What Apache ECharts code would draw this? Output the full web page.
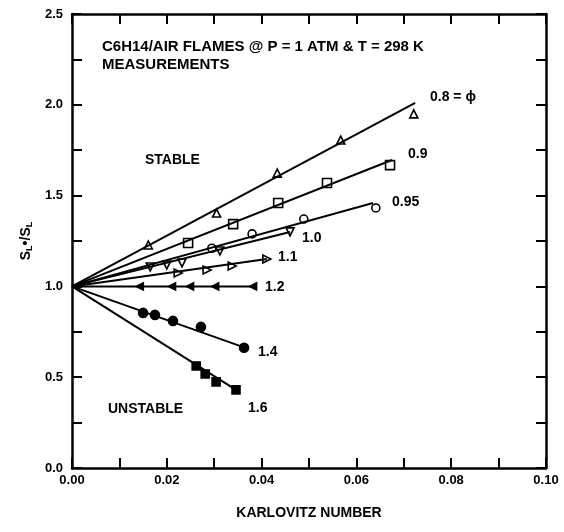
<!DOCTYPE html>
<html><head><meta charset="utf-8">
<script src="https://cdn.jsdelivr.net/npm/echarts@6/dist/echarts.min.js"></script>
<style>html,body{margin:0;padding:0;background:#fff}#c{width:564px;height:532px}</style>
</head><body><div id="c"></div>
<script>
// ---- data (Karlovitz number, S_L*/S_L) ----
const phiLabels = ['0.8 = ϕ', '0.9', '0.95', '1.0', '1.1', '1.2', '1.4', '1.6'];
const ka08 = [0.0161, 0.0305, 0.0433, 0.0567, 0.0721];
const sr08 = [1.228, 1.404, 1.624, 1.806, 1.950];
const ka09 = [0.0245, 0.0340, 0.0435, 0.0538, 0.0671];
const sr09 = [1.239, 1.343, 1.459, 1.569, 1.668];
const ka095 = [0.0295, 0.0380, 0.0489, 0.0641];
const sr095 = [1.210, 1.289, 1.371, 1.432];
const ka10 = [0.0165, 0.0200, 0.0232, 0.0312, 0.0460];
const sr10 = [1.107, 1.118, 1.129, 1.195, 1.300];
const ka11 = [0.0224, 0.0285, 0.0338, 0.0411];
const sr11 = [1.074, 1.090, 1.112, 1.151];
const ka12 = [0.0143, 0.0211, 0.0249, 0.0302, 0.0382];
const sr12 = [1.000, 1.000, 1.000, 1.000, 1.000];
const ka14 = [0.0150, 0.0175, 0.0213, 0.0272, 0.0363];
const sr14 = [0.854, 0.843, 0.810, 0.777, 0.662];
const ka16 = [0.0262, 0.0281, 0.0304, 0.0346];
const sr16 = [0.562, 0.518, 0.474, 0.430];
// fitted lines: all start at (0, 1)
const fitStartKa = 0, fitStartSr = 1;
const fitEndKa = [0.0724, 0.0675, 0.0635, 0.0460, 0.0411, 0.0382, 0.0363, 0.0346];
const fitEndSr = [2.010, 1.696, 1.459, 1.300, 1.151, 1.000, 0.664, 0.430];
const xTicks = [0, 0.02, 0.04, 0.06, 0.08, 0.10];
const yTicks = [0, 0.5, 1.0, 1.5, 2.0, 2.5];

const kaSets = [ka08, ka09, ka095, ka10, ka11, ka12, ka14, ka16];
const srSets = [sr08, sr09, sr095, sr10, sr11, sr12, sr14, sr16];
const symbols = [
  {symbol:'triangle', rot:0, fill:false, size:8},
  {symbol:'rect', rot:0, fill:false, size:9},
  {symbol:'circle', rot:0, fill:false, size:8},
  {symbol:'triangle', rot:180, fill:false, size:8},
  {symbol:'triangle', rot:-90, fill:false, size:8},
  {symbol:'triangle', rot:90, fill:true, size:7},
  {symbol:'circle', rot:0, fill:true, size:9},
  {symbol:'rect', rot:0, fill:true, size:8}
];

const FONT = 'Liberation Sans, Arial, sans-serif';
const series = [];
kaSets.forEach((ka, i) => {
  series.push({
    type: 'line', xAxisIndex: 0, yAxisIndex: 0, symbol: 'none', silent: true,
    lineStyle: {color: '#000', width: 2},
    data: [[fitStartKa, fitStartSr], [fitEndKa[i], fitEndSr[i]]]
  });
  const s = symbols[i];
  series.push({
    type: 'scatter', xAxisIndex: 0, yAxisIndex: 0,
    symbol: s.symbol, symbolRotate: s.rot, symbolSize: s.size,
    itemStyle: {color: s.fill ? '#000' : '#fff', borderColor: '#000', borderWidth: 1.6, opacity: 1},
    data: ka.map((x, j) => [x, srSets[i][j]])
  });
});
// empty series so the mirror axes (top / right) are drawn
series.push({type: 'scatter', xAxisIndex: 1, yAxisIndex: 1, data: [], silent: true});

const labelTxt = {fontFamily: FONT, fontWeight: 'bold', fontSize: 14, fill: '#000'};
const txt = (x, y, t, extra) => ({type: 'text', left: x, top: y, style: Object.assign({text: t}, labelTxt, extra || {})});

const tickStyle = {inside: true, length: 10, lineStyle: {color: '#000', width: 2}};
const lineStyle = {onZero: false, lineStyle: {color: '#000', width: 2.5}};

const chart = echarts.init(document.getElementById('c'), null, {renderer: 'canvas'});
chart.setOption({
  animation: false,
  backgroundColor: '#fff',
  grid: {left: 72, right: 18, top: 14, bottom: 64, containLabel: false},
  xAxis: [{
    type: 'value', min: 0, max: 0.1, interval: 0.01, position: 'bottom',
    name: 'KARLOVITZ NUMBER', nameLocation: 'middle', nameGap: 38,
    nameTextStyle: {fontFamily: FONT, fontWeight: 'bold', fontSize: 14, color: '#000'},
    axisLine: lineStyle, axisTick: tickStyle,
    axisLabel: {margin: 6, fontFamily: FONT, fontWeight: 'bold', fontSize: 13, color: '#000',
      formatter: v => xTicks.some(t => Math.abs(t - v) < 1e-9) ? v.toFixed(2) : ''},
    splitLine: {show: false}
  }, {
    type: 'value', min: 0, max: 0.1, interval: 0.01, position: 'top',
    axisLine: lineStyle, axisTick: tickStyle,
    axisLabel: {show: false}, splitLine: {show: false}
  }],
  yAxis: [{
    type: 'value', min: 0, max: 2.5, interval: 0.25, position: 'left',
    name: '{b|S}{s|L}{b|•/S}{s|L}', nameLocation: 'middle', nameGap: 30, nameRotate: 90,
    nameTextStyle: {rich: {
      b: {fontFamily: FONT, fontWeight: 'bold', fontSize: 14, color: '#000'},
      s: {fontFamily: FONT, fontWeight: 'bold', fontSize: 9, color: '#000', verticalAlign: 'bottom', padding: [7, 0, 0, 0]}
    }},
    axisLine: lineStyle, axisTick: tickStyle,
    axisLabel: {margin: 9, fontFamily: FONT, fontWeight: 'bold', fontSize: 13, color: '#000',
      formatter: v => yTicks.some(t => Math.abs(t - v) < 1e-9) ? v.toFixed(1) : ''},
    splitLine: {show: false}
  }, {
    type: 'value', min: 0, max: 2.5, interval: 0.25, position: 'right',
    axisLine: lineStyle, axisTick: tickStyle,
    axisLabel: {show: false}, splitLine: {show: false}
  }],
  graphic: [
    txt(102, 39, 'C6H14/AIR FLAMES @ P = 1 ATM & T = 298 K', {fontSize: 15}),
    txt(102, 57, 'MEASUREMENTS', {fontSize: 15}),
    txt(145, 153, 'STABLE'),
    txt(108, 402, 'UNSTABLE'),
    txt(430, 90, phiLabels[0]),
    txt(408, 147, phiLabels[1]),
    txt(392, 195, phiLabels[2]),
    txt(302, 231, phiLabels[3]),
    txt(278, 250, phiLabels[4]),
    txt(265, 280, phiLabels[5]),
    txt(258, 345, phiLabels[6]),
    txt(248, 401, phiLabels[7])
  ],
  series: series
});
</script></body></html>
